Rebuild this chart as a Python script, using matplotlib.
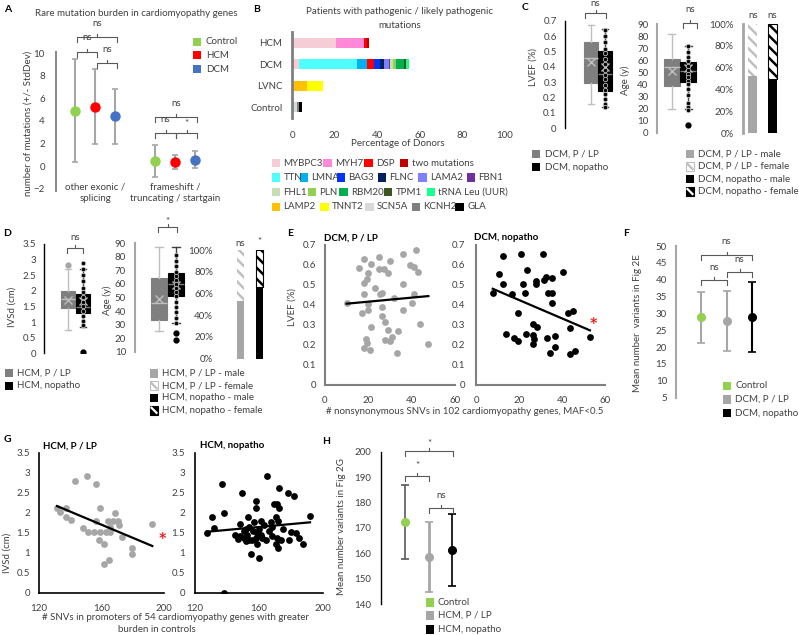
import numpy as np
import matplotlib.pyplot as plt
from matplotlib.patches import Rectangle

plt.rcParams['font.family'] = ['Lato', 'DejaVu Sans']
plt.rcParams['hatch.linewidth'] = 1.8
TXT = '#404040'
FS = 7
GREEN, RED, BLUE = '#92d050', '#ff0000', '#4472c4'
LGREY, MGREY = '#a6a6a6', '#7f7f7f'

# ---------------- data ----------------
# A: rare mutation burden (mean, StdDev)
a_groups = ['other exonic /\nsplicing', 'frameshift /\ntruncating / startgain']
a_series = ['Control', 'HCM', 'DCM']
a_colors = [GREEN, RED, BLUE]
a_mean = [[4.9, 5.25, 4.4], [0.44, 0.35, 0.59]]
a_sd = [[4.56, 3.3, 2.4], [1.41, 0.62, 0.73]]

# B: patients with P/LP mutations (% of donors, stacked by gene)
b_rows = ['HCM', 'DCM', 'LVNC', 'Control']
b_genes = [['MYBPC3', 'MYH7', 'DSP', 'two mutations'],
           ['MYBPC3', 'TTN', 'LMNA', 'DSP', 'BAG3', 'FLNC', 'LAMA2', 'FBN1', 'FHL1',
            'PLN', 'RBM20', 'TPM1', 'tRNA Leu (UUR)'],
           ['LAMP2', 'TNNT2'],
           ['TTN', 'SCN5A', 'KCNH2', 'GLA']]
b_vals = [[20.5, 13.4, 1.1, 1.0],
          [3.4, 27.2, 4.7, 3.4, 2.5, 1.9, 2.3, 0.6, 1.3, 1.3, 4.1, 0.6, 1.6],
          [6.9, 7.5],
          [0.8, 1.4, 1.0, 1.5]]
gene_colors = {'MYBPC3': '#f6ccd7', 'MYH7': '#ff88d8', 'DSP': '#ff0000', 'two mutations': '#c00000',
               'TTN': '#4dffff', 'LMNA': '#00b0f0', 'BAG3': '#0033ff', 'FLNC': '#002060',
               'LAMA2': '#8080ff', 'FBN1': '#7030a0', 'FHL1': '#c5e0b4', 'PLN': '#92d050',
               'RBM20': '#00b050', 'TPM1': '#385723', 'tRNA Leu (UUR)': '#1aff8c',
               'LAMP2': '#ffc000', 'TNNT2': '#ffff00', 'SCN5A': '#d9d9d9', 'KCNH2': '#808080',
               'GLA': '#000000'}
b_legend = [['MYBPC3', 'MYH7', 'DSP', 'two mutations'],
            ['TTN', 'LMNA', 'BAG3', 'FLNC', 'LAMA2', 'FBN1'],
            ['FHL1', 'PLN', 'RBM20', 'TPM1', 'tRNA Leu (UUR)'],
            ['LAMP2', 'TNNT2', 'SCN5A', 'KCNH2', 'GLA']]

# C: DCM boxplots (LVEF, age) and sex ratio
c_lvef = [dict(med=0.46, q1=0.295, q3=0.565, whislo=0.16, whishi=0.675, mean=0.43, fliers=[]),
          dict(med=0.355, q1=0.245, q3=0.505, whislo=0.14, whishi=0.645, mean=0.40, fliers=[])]
c_lvef_pts = [0.64, 0.60, 0.56, 0.52, 0.49, 0.45, 0.42, 0.38, 0.35, 0.32, 0.28, 0.25,
              0.22, 0.19, 0.16, 0.14]
c_age = [dict(med=54.5, q1=38.7, q3=60.8, whislo=20, whishi=82, mean=51, fliers=[]),
         dict(med=51.3, q1=42.2, q3=58.3, whislo=19.4, whishi=72, mean=53.3, fliers=[6.4])]
c_age_pts = [72, 67, 63, 59, 55, 52, 49, 46, 43, 40, 36, 31, 25, 21, 19]
c_male = [0.52, 0.50]

# D: HCM boxplots (IVSd, age) and sex ratio
d_ivsd = [dict(med=1.73, q1=1.46, q3=2.0, whislo=0.75, whishi=2.69, mean=1.71, fliers=[2.84]),
          dict(med=1.49, q1=1.3, q3=1.9, whislo=0.85, whishi=2.69, mean=1.67, fliers=[0.05])]
d_ivsd_pts = [2.9, 2.7, 2.5, 2.3, 2.1, 1.95, 1.8, 1.65, 1.5, 1.35, 1.2, 1.05, 0.9]
d_age = [dict(med=45.7, q1=33.4, q3=64.2, whislo=25.3, whishi=87.5, mean=48.7, fliers=[]),
         dict(med=60, q1=51.1, q3=68.3, whislo=30.9, whishi=87, mean=59.2, fliers=[23.5, 18.6])]
d_age_pts = [81, 77, 73, 69, 66, 63, 60, 57, 54, 51, 47, 43, 39, 35, 31]
d_male = [0.53, 0.66]

# E: LVEF vs nonsynonymous SNVs
e_plp_x = [10, 15.8, 18.2, 18.2, 19.2, 20, 21, 18.2, 20, 20, 17, 21.2, 19, 18.2, 20.8, 19.6,
           23, 25, 25, 27.2, 29.2, 30, 25.4, 26.2, 26.2, 26.2, 27.7, 29.2, 30.8, 27.7, 30,
           31.8, 33.8, 33, 36.2, 35.8, 35.8, 39.2, 41.1, 42.8, 42, 41.1, 40, 43.8, 47.7]
e_plp_y = [0.41, 0.587, 0.628, 0.51, 0.528, 0.56, 0.603, 0.455, 0.405, 0.375, 0.358, 0.288,
           0.228, 0.183, 0.175, 0.21, 0.483, 0.638, 0.578, 0.578, 0.562, 0.622, 0.455, 0.462,
           0.392, 0.345, 0.317, 0.275, 0.242, 0.225, 0.222, 0.433, 0.272, 0.162, 0.655, 0.505,
           0.375, 0.6, 0.588, 0.563, 0.675, 0.455, 0.412, 0.303, 0.205]
e_nop_x = [12.7, 20.8, 31.3, 10.8, 23.9, 12.7, 21.7, 27.9, 28, 31.6, 32.7, 7.8, 16.6, 22.8,
           33.4, 19.7, 26.7, 28.5, 14, 17.6, 19.7, 23.4, 26.7, 26.9, 26.5, 32.9, 34.4, 40.6,
           35.2, 35.2, 35.2, 42.9, 45, 43.7, 53, 36.7, 36.7, 43.7, 46]
e_nop_y = [0.645, 0.655, 0.655, 0.555, 0.575, 0.505, 0.505, 0.52, 0.505, 0.525, 0.54, 0.458,
           0.453, 0.458, 0.458, 0.36, 0.305, 0.292, 0.253, 0.235, 0.218, 0.253, 0.25, 0.23,
           0.203, 0.237, 0.158, 0.567, 0.533, 0.458, 0.408, 0.358, 0.37, 0.283, 0.242, 0.245,
           0.192, 0.153, 0.17]

# F: mean number of variants in Fig 2E
f_labels = ['Control', 'DCM, P / LP', 'DCM, nopatho']
f_mean = [28.8, 27.7, 28.9]
f_sd = [7.7, 8.9, 10.4]

# G: IVSd vs promoter SNVs
g_plp_x = [131.5, 133.2, 137.5, 137.5, 140.3, 142.8, 150.7, 156.7, 148.2, 151.4, 155, 156.7,
           158.8, 158.4, 161.6, 158.8, 162.7, 164.2, 165.7, 168.4, 165.2, 167.4, 170.6, 171.2,
           173.3, 161.4, 164.6, 179.7, 179.7, 192.5]
g_plp_y = [2.11, 2.03, 2.11, 1.9, 1.82, 2.8, 2.92, 2.71, 1.61, 1.525, 1.525, 1.8, 2.11, 1.32,
           1.21, 1.525, 1.525, 1.8, 1.65, 2.0, 1.525, 1.8, 1.8, 1.69, 1.4, 0.717, 0.817, 1.11,
           0.98, 1.72]
g_nop_x = [127.4, 131.6, 130.5, 136.8, 138.3, 138.3, 148, 149.5, 148.4, 150.5, 152.6, 153,
           155.2, 157.9, 157.9, 156.8, 153.7, 155.8, 157.9, 158.9, 160, 161.1, 162.1, 164.6,
           165.3, 167.4, 169.5, 171.2, 172.6, 170.5, 171.6, 172.6, 171.2, 170.5, 171.6, 173.7,
           177.9, 182.1, 178.9, 180, 183.2, 185.3, 191.9, 187.5, 150.5, 152, 154, 156, 159,
           161, 163, 166, 168, 175, 145, 147, 152, 160, 168]
g_nop_y = [1.5, 1.61, 1.9, 2.71, 2.0, 0.0, 1.72, 2.5, 1.42, 1.36, 1.44, 1.9, 0.98, 2.3, 2.11,
           1.78, 1.32, 1.32, 1.38, 1.22, 0.86, 1.8, 1.36, 1.32, 2.92, 1.78, 2.23, 2.21, 2.11,
           1.9, 1.8, 2.61, 1.38, 1.22, 1.11, 1.33, 2.5, 2.42, 1.32, 1.525, 1.5, 1.38, 1.93,
           1.23, 1.55, 1.6, 1.65, 1.55, 1.5, 1.45, 1.7, 1.55, 1.42, 1.6, 1.45, 1.35, 1.3, 1.6,
           1.65]

# H: mean number of variants in Fig 2G
h_labels = ['Control', 'HCM, P / LP', 'HCM, nopatho']
h_mean = [172.4, 158.6, 161.1]
h_sd = [14.5, 13.7, 14.2]

# ---------------- figure helpers ----------------
W, H = 799, 635
fig = plt.figure(figsize=(W / 100, H / 100), dpi=100)


def pax(l, t, r, b):
    return fig.add_axes([l / W, 1 - b / H, (r - l) / W, (b - t) / H])


def style(ax, color=LGREY, lw=1.5, pad=6, bottom=False, bcolor=None):
    for s in ax.spines.values():
        s.set_visible(False)
    ax.spines['left'].set_visible(True)
    ax.spines['left'].set_color(color)
    ax.spines['left'].set_linewidth(lw)
    if bottom:
        ax.spines['bottom'].set_visible(True)
        ax.spines['bottom'].set_color(bcolor or color)
        ax.spines['bottom'].set_linewidth(lw)
    else:
        ax.set_xticks([])
    ax.tick_params(length=0, labelsize=FS, labelcolor=TXT, pad=pad)
    ax.patch.set_alpha(0)


ov = fig.add_axes([0, 0, 1, 1], zorder=10)
ov.set_xlim(0, W)
ov.set_ylim(H, 0)
ov.axis('off')


def txt(x, y, s, fs=FS, c=TXT, ha='left', va='center', **kw):
    ov.text(x, y, s, fontsize=fs, color=c, ha=ha, va=va, **kw)


def brace(x1, x2, y, label, ty):
    xm = (x1 + x2) / 2
    ov.plot([x1, x1, x2, x2], [y + 5, y, y, y + 5], color='#595959', lw=0.8)
    ov.plot([xm, xm], [y, y - 3], color='#595959', lw=0.8)
    txt(xm, ty, label, ha='center')


def sq(x, y, color, ec=None, size=8.5):
    ov.add_patch(Rectangle((x - size / 2, y - size / 2), size, size, facecolor=color,
                           edgecolor=ec or color, lw=0.8 if ec else 0))


def hatch_sq(x, y, face, stripe, ec):
    sq(x, y, face, ec)
    ov.plot([x - 3.3, x + 3.3], [y - 3.3, y + 3.3], color=stripe, lw=1.6, solid_capstyle='butt')


def draw_box(ax, pos, st, face, line, med, mean_c, fl, width=0.95):
    ax.bxp([st], positions=[pos], widths=width, patch_artist=True, showmeans=True,
           capwidths=width * 0.45,
           boxprops=dict(facecolor=face, edgecolor=face, lw=0.8),
           whiskerprops=dict(color=line, lw=1), capprops=dict(color=line, lw=1),
           medianprops=dict(color=med, lw=1),
           meanprops=dict(marker='x', markeredgecolor=mean_c, markersize=6, mew=1),
           flierprops=dict(marker='o', markerfacecolor=fl, markeredgecolor=fl, markersize=3.5))


def box_panel(ax, stats, pts):
    draw_box(ax, 1, stats[0], MGREY, '#bfbfbf', '#bfbfbf', '#bfbfbf', LGREY)
    draw_box(ax, 2, stats[1], 'black', '#404040', MGREY, '#bfbfbf', 'black')
    ax.scatter(np.full(len(pts), 2), pts, s=10, color='black', edgecolors='#bfbfbf',
               linewidths=0.6, zorder=4)
    ax.set_xticks([])


def sex_panel(ax, male, face1, width):
    female = [1 - m for m in male]
    ax.bar(1, male[0], width=width, color=face1, lw=0)
    ax.bar(1, female[0], bottom=male[0], width=width, color='white', hatch='\\\\\\',
           edgecolor='#bfbfbf', lw=0)
    ax.bar(2, male[1], width=width, color='black', lw=0)
    ax.bar(2, female[1], bottom=male[1], width=width, color='white', hatch='\\\\\\',
           edgecolor='black', lw=0.8)
    ax.set_ylim(0, 1)
    ax.set_yticks(np.arange(0, 1.01, 0.2))
    ax.set_yticklabels([f'{int(round(v * 100))}%' for v in np.arange(0, 1.01, 0.2)])


def scatter_panel(ax, x, y, color, xlim, ylim, xticks, yticks, pad_y, fmt):
    ax.scatter(x, y, s=24, color=color, lw=0, zorder=3)
    k, b0 = np.polyfit(x, y, 1)
    xs = np.array([min(x), max(x)])
    ax.plot(xs, k * xs + b0, color='black', lw=1.6, zorder=4)
    ax.set_xlim(*xlim)
    ax.set_ylim(*ylim)
    ax.set_xticks(xticks)
    ax.set_yticks(yticks)
    ax.set_yticklabels([fmt(v) for v in yticks])
    ax.tick_params(axis='y', pad=pad_y)
    ax.tick_params(axis='x', pad=8)


def lab(v):
    return f'{round(v, 2):g}'


# ---------------- A ----------------
axA = pax(56, 52, 207, 191)
style(axA, color='#8c8c8c', lw=1.5, pad=8)
for s in range(3):
    xs = [4 * g + s for g in range(2)]
    axA.errorbar(xs, [a_mean[g][s] for g in range(2)], yerr=[a_sd[g][s] for g in range(2)],
                 fmt='o', color=a_colors[s], ms=6.5, ecolor=LGREY, elinewidth=1.5,
                 capsize=2.5, capthick=1.2, zorder=3)
axA.set_xlim(-0.95, 6.6)
axA.set_ylim(-2.18, 10.09)
axA.set_yticks(np.arange(-2, 11, 2))
for g in range(2):
    axA.text(4 * g + 1, -1.45, a_groups[g], ha='center', va='top', fontsize=FS, color=TXT,
             linespacing=1.35)
txt(136, 13, 'Rare mutation burden in cardiomyopathy genes', ha='center')
txt(28, 123, 'number of mutations (+/- StdDev)', ha='center', rotation=90)
for s, yy in enumerate([42, 55, 69]):
    sq(197, yy, a_colors[s])
    txt(206, yy, a_series[s])
brace(77, 117, 37, 'ns', 23)
brace(77, 97, 52, 'ns', 38)
brace(97, 117, 63, 'ns', 50)
brace(155, 197, 117, 'ns', 103)
brace(155, 176, 133, 'ns', 120)
brace(176, 197, 133, '*', 124)

# ---------------- B ----------------
axB = pax(292, 32, 505, 118)
style(axB, color='#808080', lw=2, pad=7, bottom=False)
for i, row in enumerate(b_rows):
    yv = 3 - i
    left = 0
    for gname, v in zip(b_genes[i], b_vals[i]):
        axB.barh(yv, v, left=left, height=0.47, color=gene_colors[gname], lw=0)
        left += v
axB.set_ylim(-0.5, 3.5)
axB.set_xlim(0, 100)
axB.set_yticks([3, 2, 1, 0])
axB.set_yticklabels(b_rows)
axB.set_xticks(np.arange(0, 101, 20))
axB.tick_params(axis='x', pad=9)
txt(400, 12, 'Patients with pathogenic / likely pathogenic', ha='center')
txt(400, 25, 'mutations', ha='center')
txt(398, 144, 'Percentage of Donors', ha='center')
b_leg_x = [[276, 327.5, 368.5, 404], [276, 304, 341, 382, 422.5, 471],
           [276, 312, 343.5, 388, 431], [276, 324.5, 369.5, 416, 459.5]]
for r, (names, xs) in enumerate(zip(b_legend, b_leg_x)):
    yy = 163 + r * 14.6
    for nm, xx in zip(names, xs):
        sq(xx, yy, gene_colors[nm])
        txt(xx + 7.5, yy, nm)

# ---------------- C ----------------
axC1 = pax(565, 21, 620, 128)
style(axC1, color='black', lw=1, pad=6)
box_panel(axC1, c_lvef, c_lvef_pts)
axC1.set_xlim(-0.8, 3.05)
axC1.set_ylim(0, 0.7)
yt = np.arange(0, 0.71, 0.1)
axC1.set_yticks(yt)
axC1.set_yticklabels([lab(v) for v in yt])
txt(533, 67, 'LVEF (%)', ha='center', rotation=90)

axC2 = pax(656.7, 24, 705, 132.7)
style(axC2, color=LGREY, lw=1.5, pad=6)
box_panel(axC2, c_age, c_age_pts)
axC2.set_xlim(0.096, 3.006)
axC2.set_ylim(0, 90)
axC2.set_yticks(np.arange(0, 91, 10))
txt(625, 80, 'Age (y)', ha='center', rotation=90)

axC3 = pax(743.3, 24, 790, 133.3)
style(axC3, color=LGREY, lw=2, pad=7)
sex_panel(axC3, c_male, LGREY, 0.45)
axC3.set_xlim(0.54, 2.875)
axC3.set_xticks([])
brace(585, 606, 13, 'ns', 3)
brace(683, 697, 22.7, 'ns', 10)
txt(752.7, 15, 'ns', ha='center')
txt(771.7, 15, 'ns', ha='center')
sq(536, 154, MGREY)
txt(545, 154, 'DCM, P / LP')
sq(536, 167, 'black')
txt(545, 167, 'DCM, nopatho')
sq(690, 154, LGREY)
txt(698, 154, 'DCM, P / LP - male')
hatch_sq(690, 166.5, 'white', '#bfbfbf', '#bfbfbf')
txt(698, 166.5, 'DCM, P / LP - female')
sq(690, 179, 'black')
txt(698, 179, 'DCM, nopatho - male')
hatch_sq(690, 191.5, 'black', 'white', 'black')
txt(698, 191.5, 'DCM, nopatho - female')

# ---------------- D ----------------
axD1 = pax(44.3, 244, 100, 353.3)
style(axD1, color='black', lw=1, pad=6)
box_panel(axD1, d_ivsd, d_ivsd_pts)
axD1.set_xlim(-0.58, 3.13)
axD1.set_ylim(0, 3.5)
yt = np.arange(0, 3.51, 0.5)
axD1.set_yticks(yt)
axD1.set_yticklabels([lab(v) for v in yt])
txt(12, 307, 'IVSd (cm)', ha='center', rotation=90)

axD2 = pax(135, 243.3, 192, 351.7)
style(axD2, color=LGREY, lw=1.5, pad=6.5)
box_panel(axD2, d_age, d_age_pts)
axD2.set_xlim(-0.412, 2.94)
axD2.set_ylim(10, 90)
axD2.set_yticks(np.arange(10, 91, 10))
txt(107, 300, 'Age (y)', ha='center', rotation=90)

axD3 = pax(222, 250, 270, 358.5)
style(axD3, color='white', lw=0, pad=6.5)
sex_panel(axD3, d_male, LGREY, 0.36)
axD3.set_xlim(0.057, 2.53)
axD3.set_xticks([])
brace(67, 83, 248, 'ns', 238)
brace(158, 177, 227, '*', 221)
txt(240.3, 243, 'ns', ha='center')
txt(259.7, 242, '*', ha='center')
sq(9, 373, MGREY)
txt(17, 373, 'HCM, P / LP')
sq(9, 386, 'black')
txt(17, 386, 'HCM, nopatho')
sq(154, 373.3, LGREY)
txt(162, 373.3, 'HCM, P / LP - male')
hatch_sq(154, 385.7, 'white', '#bfbfbf', '#bfbfbf')
txt(162, 385.7, 'HCM, P / LP - female')
sq(154, 398, 'black')
txt(162, 398, 'HCM, nopatho - male')
hatch_sq(154, 410.3, 'black', 'white', 'black')
txt(162, 410.3, 'HCM, nopatho - female')

# ---------------- E ----------------
e_yt = np.arange(0, 0.71, 0.1)
axE1 = pax(325, 245, 455, 385)
style(axE1, color='#808080', lw=1.5, bottom=True)
scatter_panel(axE1, e_plp_x, e_plp_y, LGREY, (0, 60), (0, 0.7), [0, 20, 40, 60], e_yt, 6.5, lab)
axE2 = pax(476, 245, 605, 385)
style(axE2, color='#808080', lw=1.5, bottom=True)
scatter_panel(axE2, e_nop_x, e_nop_y, 'black', (0, 60), (0, 0.7), [0, 20, 40, 60], e_yt, 8, lab)
txt(324, 238, 'DCM, P / LP', c='black', weight='bold')
txt(474, 238, 'DCM, nopatho', c='black', weight='bold')
txt(292, 307, 'LVEF (%)', ha='center', rotation=90)
txt(465, 412, '# nonsynonymous SNVs in 102 cardiomyopathy genes, MAF<0.5', ha='center')
txt(593, 327, '*', fs=16, c=RED, ha='center')

# ---------------- F ----------------
axF = pax(676, 246, 790, 397.7)
style(axF, color=LGREY, lw=1.5, pad=6.5)
f_colors = [GREEN, LGREY, 'black']
f_ecol = [LGREY, LGREY, 'black']
for i in range(3):
    axF.errorbar(i + 1, f_mean[i], yerr=f_sd[i], fmt='o', color=f_colors[i], ms=5.5,
                 ecolor=f_ecol[i], elinewidth=1.5, capsize=3, capthick=1.2, zorder=3)
axF.set_xlim(0.027, 4.46)
axF.set_ylim(5, 50)
axF.set_yticks(np.arange(5, 51, 5))
txt(638, 323, 'Mean number  variants in Fig 2E', ha='center', rotation=90)
brace(701, 752, 255, 'ns', 241)
brace(701, 727, 280, 'ns', 268)
brace(727, 752, 271.7, 'ns', 259)
for i, yy in enumerate([386, 399.5, 413]):
    sq(727, yy, f_colors[i])
    txt(735, yy, f_labels[i])

# ---------------- G ----------------
g_yt = np.arange(0, 3.51, 0.5)
axG1 = pax(39, 452.7, 164, 592.7)
style(axG1, color='black', lw=1.2, bottom=True)
scatter_panel(axG1, g_plp_x, g_plp_y, LGREY, (120, 200), (0, 3.5), [120, 160, 200], g_yt, 6.5, lab)
axG2 = pax(195, 452.7, 323, 592.7)
style(axG2, color='black', lw=1.2, bottom=True)
scatter_panel(axG2, g_nop_x, g_nop_y, 'black', (120, 200), (0, 3.5), [120, 160, 200], g_yt, 7, lab)
txt(43, 446, 'HCM, P / LP', c='black', weight='bold')
txt(200, 446, 'HCM, nopatho', c='black', weight='bold')
txt(7, 553, 'IVSd (cm)', ha='center', rotation=90)
txt(175, 617, '# SNVs in promoters of 54 cardiomyopathy genes with greater', ha='center')
txt(157, 630, 'burden in controls', ha='center')
txt(162, 542, '*', fs=16, c=RED, ha='center')

# ---------------- H ----------------
axH = pax(381, 451.7, 490, 604)
style(axH, color='black', lw=1, pad=7)
h_colors = [GREEN, LGREY, 'black']
h_ecol = ['#595959', LGREY, 'black']
h_lw = [1.2, 2.0, 1.2]
for i in range(3):
    axH.errorbar(i + 1, h_mean[i], yerr=h_sd[i], fmt='o', color=h_colors[i], ms=5.5,
                 ecolor=h_ecol[i], elinewidth=h_lw[i], capsize=3, capthick=1.2, zorder=3)
axH.set_xlim(-0.013, 4.59)
axH.set_ylim(140, 200)
axH.set_yticks(np.arange(140, 201, 10))
txt(342, 527, 'Mean number variants in Fig 2G', ha='center', rotation=90)
brace(405, 453, 451, '*', 443)
brace(405, 429, 476, '*', 465)
brace(429, 453, 508.3, 'ns', 496)
for i, yy in enumerate([602.3, 615.5, 629.5]):
    sq(430, yy, h_colors[i])
    txt(438, yy, h_labels[i])

# ---------------- panel letters ----------------
for letter, (lx, ly) in {'A': (4, 10), 'B': (253, 10), 'C': (522, 8), 'D': (3, 233),
                         'E': (287, 233), 'F': (623, 233), 'G': (4, 440), 'H': (322, 442)}.items():
    txt(lx, ly, letter, fs=7.5, c='black', weight='bold')

fig.savefig('out.png', dpi=100, facecolor='white')
